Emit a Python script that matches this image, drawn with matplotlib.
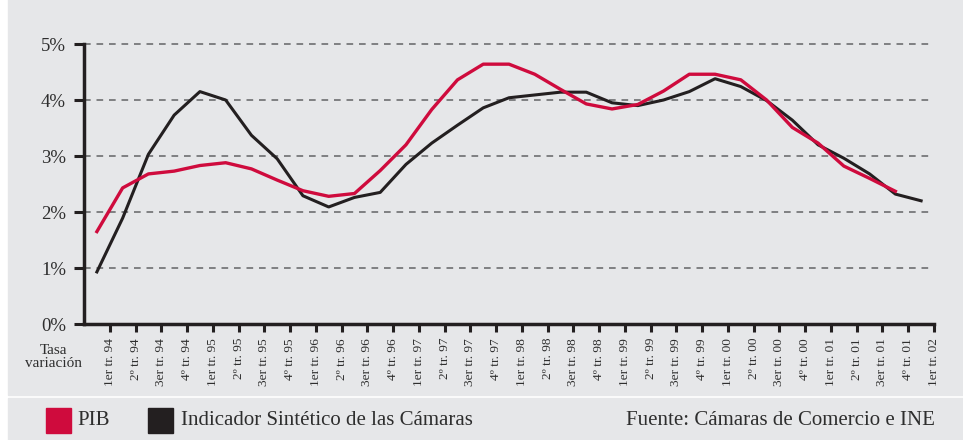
import matplotlib
matplotlib.use('Agg')
import matplotlib.pyplot as plt
from matplotlib.patches import Rectangle

plt.rcParams['font.family'] = ['Liberation Serif', 'DejaVu Serif']

# quarterly labels, 1er tr. 94 .. 1er tr. 02
trimestres = ['1er', '2º', '3er', '4º']
anios = ['94', '95', '96', '97', '98', '99', '00', '01']
etiquetas = [f'{t} tr. {a}' for a in anios for t in trimestres] + ['1er tr. 02']

# tasa de variación (%)
pib = [1.65, 2.43, 2.68, 2.73, 2.83, 2.88, 2.77, 2.57, 2.38, 2.28, 2.33,
       2.74, 3.20, 3.83, 4.36, 4.64, 4.64, 4.46, 4.19, 3.93, 3.84, 3.92,
       4.16, 4.46, 4.46, 4.36, 4.00, 3.51, 3.23, 2.82, 2.60, 2.37]
indicador = [0.93, 1.89, 3.03, 3.73, 4.15, 4.00, 3.37, 2.95, 2.29, 2.09, 2.26,
             2.35, 2.85, 3.23, 3.55, 3.86, 4.04, 4.09, 4.14, 4.14, 3.95, 3.90,
             4.00, 4.15, 4.38, 4.24, 3.99, 3.64, 3.20, 2.96, 2.68, 2.32, 2.20]
niveles = [0, 1, 2, 3, 4, 5]

rojo = '#cf0b3d'
negro = '#231f20'
fondo = '#e6e7e9'
texto = '#2e2e2e'

W, H = 963, 440
fig = plt.figure(figsize=(W / 100, H / 100), dpi=100, facecolor='white')

# grey panels: chart area and legend strip (behind everything)
fig.patches.append(Rectangle((8 / W, 45 / H), 1, 1, transform=fig.transFigure,
                             color=fondo, zorder=-2))
fig.patches.append(Rectangle((8 / W, 0), 1, 42 / H, transform=fig.transFigure,
                             color=fondo, zorder=-2))

ax = fig.add_axes([84 / W, 116 / H, 850 / W, 280 / H])
ax.set_facecolor('none')
ax.set_zorder(1)

n = len(etiquetas)
ax.set_xlim(-0.5, n - 0.5)
ax.set_ylim(0, 5)

ax.hlines(niveles[1:], -0.5, n - 0.5, colors='#6d6e70', linewidth=1.2,
          linestyles=(0, (4, 3.5)), clip_on=False, zorder=1)

ax.plot(range(len(indicador)), indicador, color=negro, linewidth=2.2, zorder=3)
ax.plot(range(len(pib)), pib, color=rojo, linewidth=2.4, zorder=4)

for lado in ['top', 'right']:
    ax.spines[lado].set_visible(False)
for lado in ['left', 'bottom']:
    ax.spines[lado].set_linewidth(2.5)
    ax.spines[lado].set_color(negro)
    ax.spines[lado].set_capstyle('projecting')

ax.set_yticks(niveles)
ax.set_yticklabels([f'{v}%' for v in niveles])
ax.set_xticks([i + 0.5 for i in range(n)])
ax.set_xticklabels(etiquetas, rotation=90, va='top', ha='center')

ax.tick_params(axis='y', length=7, width=2.2, color=negro, pad=6,
               labelsize=13.5, labelcolor=texto)
ax.tick_params(axis='x', length=6, width=2.2, color=negro, pad=4,
               labelsize=9.6, labelcolor=texto)

fig.text(53 / W, 1 - 357 / H, 'Tasa\nvariación', ha='center', va='center',
         fontsize=11, color=texto, linespacing=0.95)

# legend strip
yl = 20 / H
fig.patches.append(Rectangle((46 / W, 7 / H), 25 / W, 25 / H,
                             transform=fig.transFigure, color=rojo))
fig.text(77 / W, yl, 'PIB', ha='left', va='center', fontsize=15, color=texto)
fig.patches.append(Rectangle((148 / W, 7 / H), 25 / W, 25 / H,
                             transform=fig.transFigure, color=negro))
fig.text(181 / W, yl, 'Indicador Sintético de las Cámaras', ha='left',
         va='center', fontsize=15, color=texto)
fig.text(935 / W, yl, 'Fuente: Cámaras de Comercio e INE', ha='right',
         va='center', fontsize=15, color=texto)

fig.savefig('out.png', dpi=100, facecolor=fig.get_facecolor())
